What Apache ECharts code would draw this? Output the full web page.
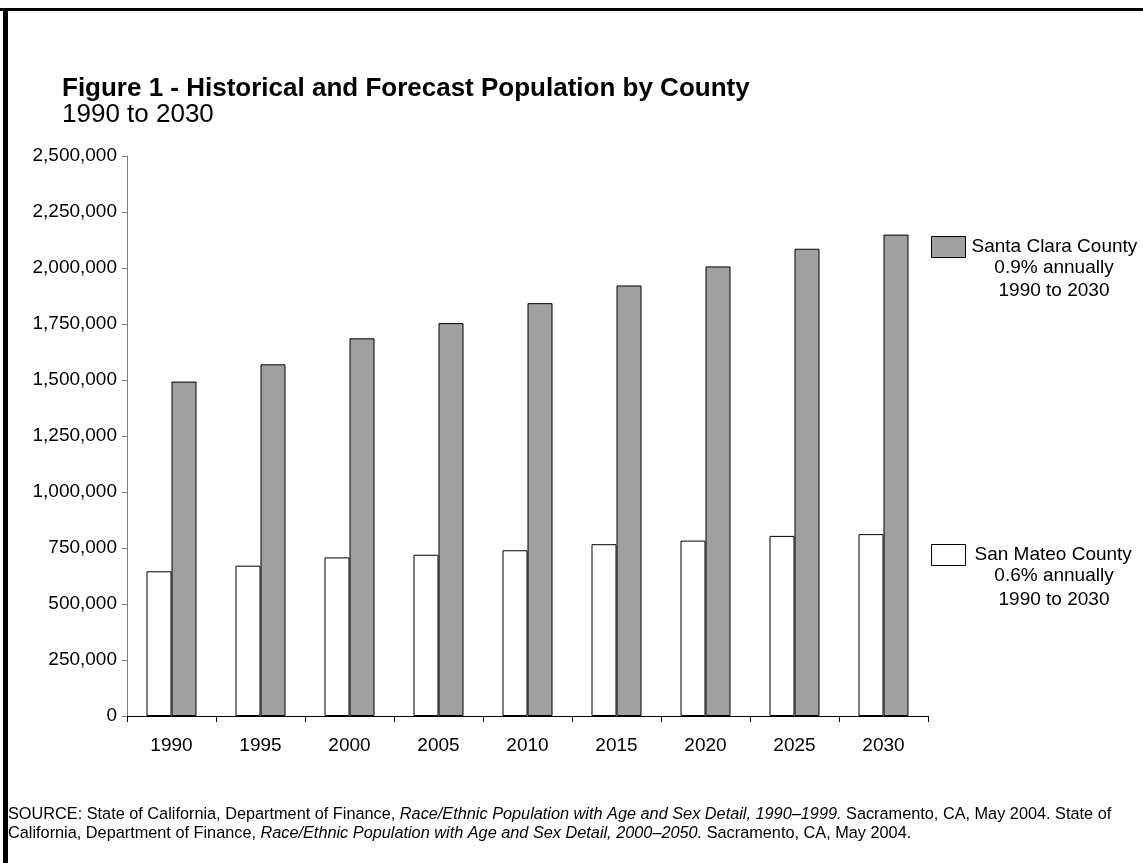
<!DOCTYPE html>
<html>
<head>
<meta charset="utf-8">
<script src="https://cdn.jsdelivr.net/npm/echarts@6/dist/echarts.min.js"></script>
<style>
html,body{margin:0;padding:0;background:#fff;}
#chart{width:1143px;height:863px;}
</style>
</head>
<body>
<div id="chart"></div>
<script>
const years = ['1990','1995','2000','2005','2010','2015','2020','2025','2030'];
const sanMateo = [646000, 671000, 708000, 720000, 740000, 767000, 783000, 804000, 812000];
const santaClara = [1493000, 1570000, 1686000, 1754000, 1843000, 1922000, 2007000, 2086000, 2149000];
const seriesNames = ['San Mateo County', 'Santa Clara County'];
const legendNotes = {
  'Santa Clara County': ['0.9% annually', '1990 to 2030'],
  'San Mateo County': ['0.6% annually', '1990 to 2030']
};
const titleText = 'Figure 1 - Historical and Forecast Population by County';
const subtitleText = '1990 to 2030';

const FONT = '"Liberation Sans", Arial, Helvetica, sans-serif';
const chart = echarts.init(document.getElementById('chart'), null, {renderer: 'canvas'});

function fmt(v) { return String(v).replace(/\B(?=(\d{3})+(?!\d))/g, ','); }

const option = {
  backgroundColor: '#fff',
  animation: false,
  grid: {left: 127, right: 215, top: 156, bottom: 147, containLabel: false},
  xAxis: {
    type: 'category',
    data: years,
    boundaryGap: true,
    axisLine: {show: true, lineStyle: {color: '#000', width: 1}},
    axisTick: {show: true, length: 6, lineStyle: {color: '#000'}},
    axisLabel: {fontSize: 19, fontFamily: FONT, color: '#000', margin: 20},
    splitLine: {show: false}
  },
  yAxis: {
    type: 'value',
    min: 0, max: 2500000, interval: 250000,
    axisLine: {show: true, lineStyle: {color: '#808080', width: 1}},
    axisTick: {show: true, length: 5, lineStyle: {color: '#808080'}},
    axisLabel: {fontSize: 19, fontFamily: FONT, color: '#000', margin: 10, formatter: fmt},
    splitLine: {show: false}
  },
  legend: [
    {
      data: [seriesNames[1]], left: 926, top: 231, orient: 'vertical',
      itemWidth: 34, itemHeight: 21, icon: 'rect',
      itemStyle: {color: '#a0a0a0', borderColor: '#000', borderWidth: 1},
      textStyle: {fontSize: 19, fontFamily: FONT, color: '#000', padding: [0, 0, 0, 1]}
    },
    {
      data: [seriesNames[0]], left: 926, top: 539, orient: 'vertical',
      itemWidth: 34, itemHeight: 21, icon: 'rect',
      itemStyle: {color: '#fff', borderColor: '#000', borderWidth: 1},
      textStyle: {fontSize: 19, fontFamily: FONT, color: '#000', padding: [0, 0, 0, 4]}
    }
  ],
  series: [
    {
      name: seriesNames[0], type: 'bar', data: sanMateo,
      barWidth: 25, barGap: '0%',
      itemStyle: {color: '#ffffff', borderColor: '#000', borderWidth: 1}
    },
    {
      name: seriesNames[1], type: 'bar', data: santaClara,
      barWidth: 25, barGap: '0%',
      itemStyle: {color: '#a0a0a0', borderColor: '#000', borderWidth: 1}
    }
  ],
  graphic: [
    {type: 'rect', shape: {x: 0, y: 8, width: 1143, height: 3}, style: {fill: '#000'}},
    {type: 'rect', shape: {x: 3, y: 8, width: 5, height: 855}, style: {fill: '#000'}},
    {type: 'text', left: 62, top: 76, style: {text: titleText, font: 'bold 26px ' + FONT, fill: '#000'}},
    {type: 'text', left: 62, top: 102, style: {text: subtitleText, font: '26px ' + FONT, fill: '#000'}},
    {type: 'text', x: 1054, y: 268, style: {text: legendNotes['Santa Clara County'][0], font: '19px ' + FONT, fill: '#000', align: 'center', verticalAlign: 'middle'}},
    {type: 'text', x: 1054, y: 291, style: {text: legendNotes['Santa Clara County'][1], font: '19px ' + FONT, fill: '#000', align: 'center', verticalAlign: 'middle'}},
    {type: 'text', x: 1054, y: 576, style: {text: legendNotes['San Mateo County'][0], font: '19px ' + FONT, fill: '#000', align: 'center', verticalAlign: 'middle'}},
    {type: 'text', x: 1054, y: 600, style: {text: legendNotes['San Mateo County'][1], font: '19px ' + FONT, fill: '#000', align: 'center', verticalAlign: 'middle'}},
    {
      type: 'text', left: 8, top: 805,
      style: {
        text: '{n|SOURCE: State of California, Department of Finance, }{i|Race/Ethnic Population with Age and Sex Detail, 1990–1999.}{n| Sacramento, CA, May 2004. State of}\n' +
              '{n|California, Department of Finance, }{i|Race/Ethnic Population with Age and Sex Detail, 2000–2050.}{n| Sacramento, CA, May 2004.}',
        fill: '#000',
        rich: {
          n: {fontSize: 16.3, fontFamily: FONT, color: '#000', lineHeight: 19, height: 19, verticalAlign: 'bottom'},
          i: {fontSize: 16.3, fontFamily: FONT, fontStyle: 'italic', color: '#000', lineHeight: 19, height: 19, verticalAlign: 'bottom'}
        }
      }
    }
  ]
};
chart.setOption(option);
</script>
</body>
</html>
